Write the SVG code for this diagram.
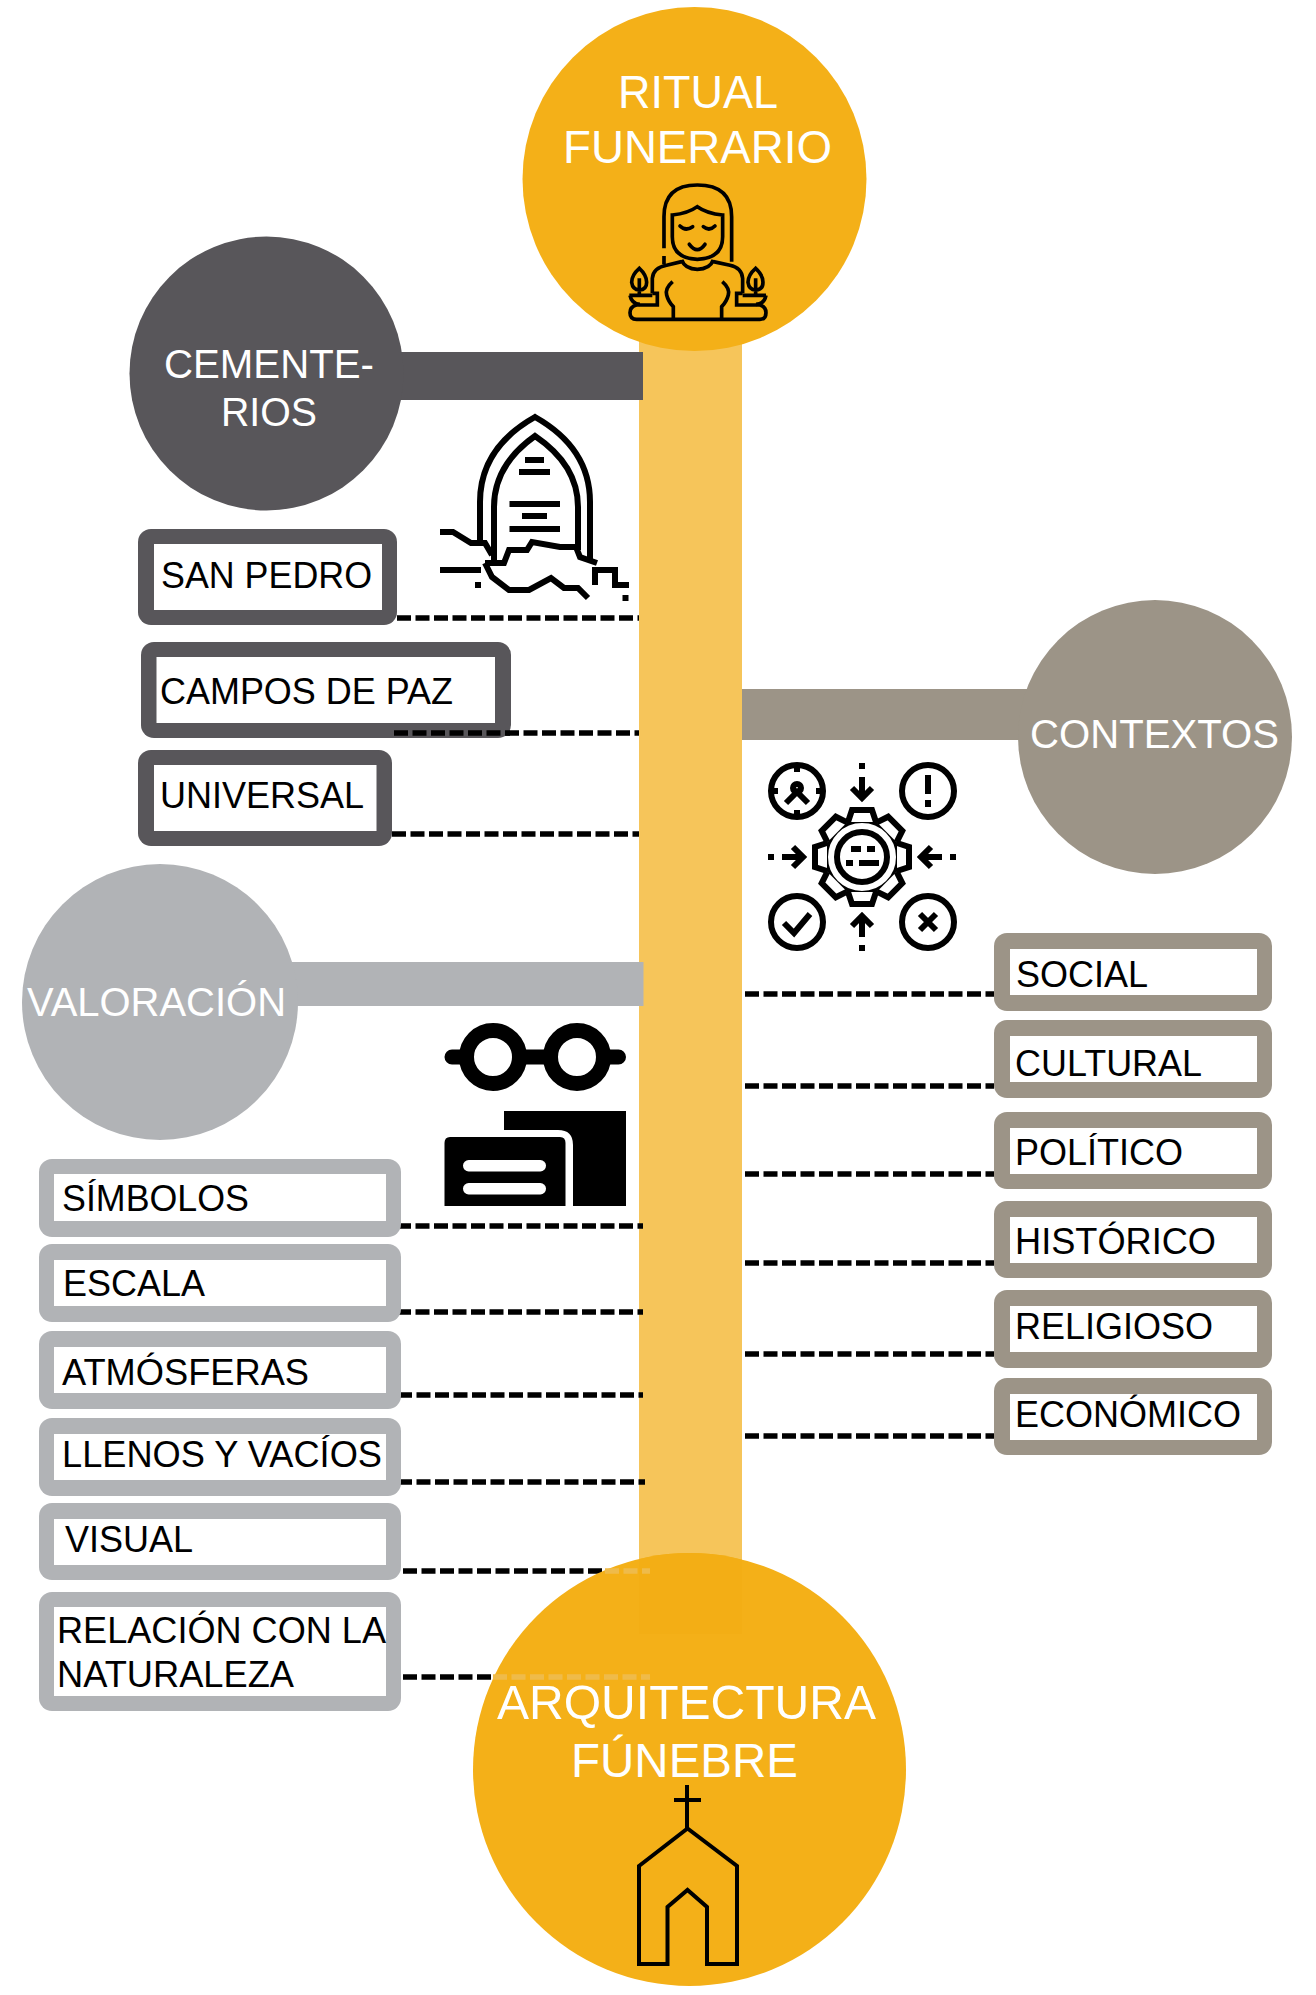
<svg xmlns="http://www.w3.org/2000/svg" xmlns:xlink="http://www.w3.org/1999/xlink" width="1316" height="1995" viewBox="0 0 1316 1995">
<style>
text{font-family:"Liberation Sans",Arial,sans-serif}
.w{fill:#fff;font-size:47px}
.w2{fill:#fff;font-size:40px}
.k{fill:#000;font-size:36px}
.dark{fill:#58565A}.taupe{fill:#9C9487}.gray{fill:#B1B3B6}.gold{fill:#F4B018}
.in{fill:#fff}
.dash{stroke:#000;stroke-width:5.500;stroke-dasharray:14 4.500;fill:none}
.dashf{stroke:#EFBB4A;stroke-width:5.500;stroke-dasharray:14 4.500;fill:none}
.ic{fill:none;stroke:#000;stroke-linejoin:miter}
</style>
<defs>
<path id="tooth" d="M-14 -35L-10 -47H10L14 -35" fill="#fff" stroke="#000" stroke-width="6"/>
<g id="arrow" fill="none" stroke="#000" stroke-width="6"><path d="M862 763V769M862 777V798M852 788L862 798L872 788"/></g>
<clipPath id="botclip"><circle cx="689.500" cy="1769.500" r="216.500"/></clipPath>
</defs>
<rect id="trunk" x="639" y="330" width="103" height="1304" fill="#F6C55A"/>

<g id="connectors">
<path class="dash" d="M397 618H639M394 733H639M392 834H639"/>
<path class="dash" d="M397 1226H643M397 1312H643M398 1395H643M398 1482H645"/>
<path class="dash" d="M403 1571H605M403 1677H493"/>
<path class="dash" d="M745 994H994M745 1086H994M745 1174H994M745 1263H994M745 1354H994M745 1436H994"/>
</g>

<g id="node-ritual">
<circle class="gold" cx="694.500" cy="179" r="172"/>
<text class="w" x="618" y="108" textLength="160" lengthAdjust="spacingAndGlyphs">RITUAL</text>
<text class="w" x="563" y="163" textLength="269" lengthAdjust="spacingAndGlyphs">FUNERARIO</text>
<g class="ic" transform="translate(500 0) scale(.3333)" stroke-width="11">
<path d="M492 745V650Q492 555 592 555Q695 555 695 650V785M492 768V792"/>
<path d="M517 645Q565 640 592 620Q620 640 668 645V710Q668 775 592 778Q517 775 517 710Z"/>
<path d="M540 678Q557 695 578 680M610 680Q628 695 645 678M568 733Q592 765 615 733" stroke-linecap="round"/>
<path d="M545 780Q555 808 592 808Q630 808 640 780"/>
<path d="M457 880V835Q460 803 500 796L545 785M640 785L690 796Q725 803 728 835V880"/>
<path d="M518 845Q495 865 500 885Q505 905 520 920V958M667 845Q690 865 685 885Q680 905 665 920V958"/>
<path d="M410 958H780Q798 958 798 938Q798 920 780 915H710V880H728M410 958Q390 958 390 938Q390 920 410 915H472V880H457"/>
<path d="M388 886H457M728 886H798M390 886Q395 912 420 913M798 886Q793 912 768 913"/>
<path d="M418 805Q395 825 395 847Q398 870 418 870Q440 870 440 847Q440 825 418 805ZM418 835V885"/>
<path d="M767 805Q744 825 744 847Q747 870 767 870Q789 870 789 847Q789 825 767 805ZM767 835V885"/>
</g>
</g>

<g id="node-cementerios">
<rect class="dark" x="360" y="352" width="283" height="48"/>
<circle class="dark" cx="266.500" cy="373.500" r="137"/>
<text class="w2" x="164" y="378" textLength="210" lengthAdjust="spacingAndGlyphs">CEMENTE-</text>
<text class="w2" x="221" y="426" textLength="96" lengthAdjust="spacingAndGlyphs">RIOS</text>
<g class="ic" stroke-width="6">
<path d="M480 543V502Q480 448 535 417Q590 448 590 502V560"/>
<path d="M494 560V507Q494 465 535 436Q578 465 578 507V550"/>
<path d="M525 460H544M519 472H550M509.500 504H560M522 516H547M509.500 529H560"/>
<path d="M440 532H453L471 543H485L492 555M440 570H481"/>
<path d="M595 585V570H615V585H629"/>
<path d="M485 563H504L509 550H527L532 542L560 547H576L580 557L597 563"/>
<path d="M485 563L492 577L509 590H529L551 578L564 588H578L588 598"/>
<path d="M475 585H481M622.500 598H628.500"/>
</g>
</g>

<g id="item-san-pedro"><rect class="dark" x="138" y="529" width="259" height="96" rx="13"/><rect class="in" x="154" y="544" width="228" height="66"/><text class="k" x="161" y="588" textLength="211" lengthAdjust="spacingAndGlyphs">SAN PEDRO</text></g>
<g id="item-campos"><rect class="dark" x="141" y="642" width="370" height="96" rx="13"/><rect class="in" x="156.500" y="657" width="338.500" height="66"/><text class="k" x="160" y="704" textLength="293" lengthAdjust="spacingAndGlyphs">CAMPOS DE PAZ</text></g>
<g id="item-universal"><rect class="dark" x="138" y="750" width="254" height="96" rx="13"/><rect class="in" x="154" y="765" width="222.500" height="66"/><text class="k" x="160" y="808" textLength="204" lengthAdjust="spacingAndGlyphs">UNIVERSAL</text></g>
<path class="dash" d="M394 733H510"/>

<g id="node-contextos">
<rect class="taupe" x="742" y="689" width="300" height="51"/>
<circle class="taupe" cx="1155" cy="737" r="137"/>
<text class="w2" x="1030" y="748" textLength="249" lengthAdjust="spacingAndGlyphs">CONTEXTOS</text>
<g class="ic" stroke-width="6">
<circle cx="862" cy="857" r="37"/>
<use xlink:href="#tooth" transform="translate(862 857)"/>
<use xlink:href="#tooth" transform="translate(862 857) rotate(45)"/>
<use xlink:href="#tooth" transform="translate(862 857) rotate(90)"/>
<use xlink:href="#tooth" transform="translate(862 857) rotate(135)"/>
<use xlink:href="#tooth" transform="translate(862 857) rotate(180)"/>
<use xlink:href="#tooth" transform="translate(862 857) rotate(225)"/>
<use xlink:href="#tooth" transform="translate(862 857) rotate(270)"/>
<use xlink:href="#tooth" transform="translate(862 857) rotate(315)"/>
<circle cx="862" cy="857" r="25"/>
<path d="M851 849H861M867 849H875M846 863H853M859 863H879"/>
<use xlink:href="#arrow"/>
<use xlink:href="#arrow" transform="rotate(90 862 857)"/>
<use xlink:href="#arrow" transform="rotate(180 862 857)"/>
<use xlink:href="#arrow" transform="rotate(270 862 857)"/>
<circle cx="797" cy="791" r="26"/><circle cx="928" cy="791" r="26"/><circle cx="797" cy="922" r="26"/><circle cx="928" cy="922" r="26"/>
<path d="M797 765V772M797 810V817M771 791H778M816 791H823"/>
<circle cx="797" cy="788" r="4"/>
<path d="M786 803L797 792L808 803"/>
<path d="M928 775V794M928 800V807"/>
<path d="M784 923L794 933L810 914"/>
<path d="M920 914L936 930M936 914L920 930"/>
</g>
</g>

<g id="item-social"><rect class="taupe" x="994" y="933" width="278" height="78" rx="13"/><rect class="in" x="1010" y="949" width="247" height="46"/><text class="k" x="1016" y="987" textLength="132" lengthAdjust="spacingAndGlyphs">SOCIAL</text></g>
<g id="item-cultural"><rect class="taupe" x="994" y="1020" width="278" height="78" rx="13"/><rect class="in" x="1010" y="1036" width="247" height="46"/><text class="k" x="1015" y="1076" textLength="187" lengthAdjust="spacingAndGlyphs">CULTURAL</text></g>
<g id="item-politico"><rect class="taupe" x="994" y="1112" width="278" height="77" rx="13"/><rect class="in" x="1010" y="1128" width="247" height="46"/><text class="k" x="1015" y="1165" textLength="168" lengthAdjust="spacingAndGlyphs">POLÍTICO</text></g>
<g id="item-historico"><rect class="taupe" x="994" y="1201" width="278" height="77" rx="13"/><rect class="in" x="1010" y="1217" width="247" height="46"/><text class="k" x="1015" y="1254" textLength="201" lengthAdjust="spacingAndGlyphs">HISTÓRICO</text></g>
<g id="item-religioso"><rect class="taupe" x="994" y="1290" width="278" height="78" rx="13"/><rect class="in" x="1010" y="1306" width="247" height="46"/><text class="k" x="1015" y="1339" textLength="198" lengthAdjust="spacingAndGlyphs">RELIGIOSO</text></g>
<g id="item-economico"><rect class="taupe" x="994" y="1378" width="278" height="77" rx="13"/><rect class="in" x="1010" y="1394" width="247" height="46"/><text class="k" x="1015" y="1427" textLength="226" lengthAdjust="spacingAndGlyphs">ECONÓMICO</text></g>

<g id="node-valoracion">
<rect class="gray" x="280" y="962" width="363.500" height="44"/>
<circle class="gray" cx="160" cy="1002" r="138"/>
<text class="w2" x="27" y="1016" textLength="259" lengthAdjust="spacingAndGlyphs">VALORACIÓN</text>
<g id="icon-glasses">
<circle cx="493" cy="1057" r="26.500" fill="none" stroke="#000" stroke-width="15"/>
<circle cx="577" cy="1057" r="26.500" fill="none" stroke="#000" stroke-width="15"/>
<path d="M452 1057H466M520 1057H550M604 1057H618.500" fill="none" stroke="#000" stroke-width="15" stroke-linecap="round"/>
<path d="M504 1111H626V1206H573V1145Q573 1130 558 1130H504Z"/>
<path d="M450 1137H560Q565.500 1137 565.500 1143V1206H444.500V1143Q444.500 1137 450 1137Z"/>
<rect x="463" y="1160" width="83" height="11.500" rx="5.700" fill="#fff"/>
<rect x="463" y="1183" width="83" height="11.500" rx="5.700" fill="#fff"/>
</g>
</g>

<g id="item-simbolos"><rect class="gray" x="39" y="1159" width="362" height="78" rx="13"/><rect class="in" x="54" y="1174" width="332" height="47"/><text class="k" x="62" y="1211" textLength="187" lengthAdjust="spacingAndGlyphs">SÍMBOLOS</text></g>
<g id="item-escala"><rect class="gray" x="39" y="1244" width="362" height="78" rx="13"/><rect class="in" x="54" y="1260" width="332" height="46"/><text class="k" x="63" y="1296" textLength="142" lengthAdjust="spacingAndGlyphs">ESCALA</text></g>
<g id="item-atmosferas"><rect class="gray" x="39" y="1331" width="362" height="78" rx="13"/><rect class="in" x="54" y="1347" width="332" height="46"/><text class="k" x="62" y="1385" textLength="247" lengthAdjust="spacingAndGlyphs">ATMÓSFERAS</text></g>
<g id="item-llenos"><rect class="gray" x="39" y="1418" width="362" height="78" rx="13"/><rect class="in" x="54" y="1434" width="332" height="46"/><text class="k" x="62" y="1467" textLength="320" lengthAdjust="spacingAndGlyphs">LLENOS Y VACÍOS</text></g>
<g id="item-visual"><rect class="gray" x="39" y="1503" width="362" height="77" rx="13"/><rect class="in" x="54" y="1519" width="332" height="46"/><text class="k" x="65" y="1552" textLength="128" lengthAdjust="spacingAndGlyphs">VISUAL</text></g>
<g id="item-relacion"><rect class="gray" x="39" y="1592" width="362" height="119" rx="13"/><rect class="in" x="54" y="1607" width="332" height="89"/><text class="k" x="57" y="1643" textLength="329" lengthAdjust="spacingAndGlyphs">RELACIÓN CON LA</text><text class="k" x="57" y="1687" textLength="237" lengthAdjust="spacingAndGlyphs">NATURALEZA</text></g>

<g id="node-arquitectura">
<circle class="gold" cx="689.500" cy="1769.500" r="216.500"/>
<rect x="639" y="1553" width="103" height="81" fill="#F3AE15" clip-path="url(#botclip)"/>
<path class="dashf" d="M605 1571H650M493 1677H650"/>
<text class="w" style="font-size:48px" x="497" y="1719" textLength="379" lengthAdjust="spacingAndGlyphs">ARQUITECTURA</text>
<text class="w" style="font-size:48px" x="571" y="1777" textLength="227" lengthAdjust="spacingAndGlyphs">FÚNEBRE</text>
<g class="ic" stroke-width="4">
<path d="M687 1785V1828M674 1800H701"/>
<path d="M639 1866L687.500 1828.500L737 1866V1964H707V1907L687.500 1890L667.500 1907V1964H639Z"/>
</g>
</g>
</svg>
